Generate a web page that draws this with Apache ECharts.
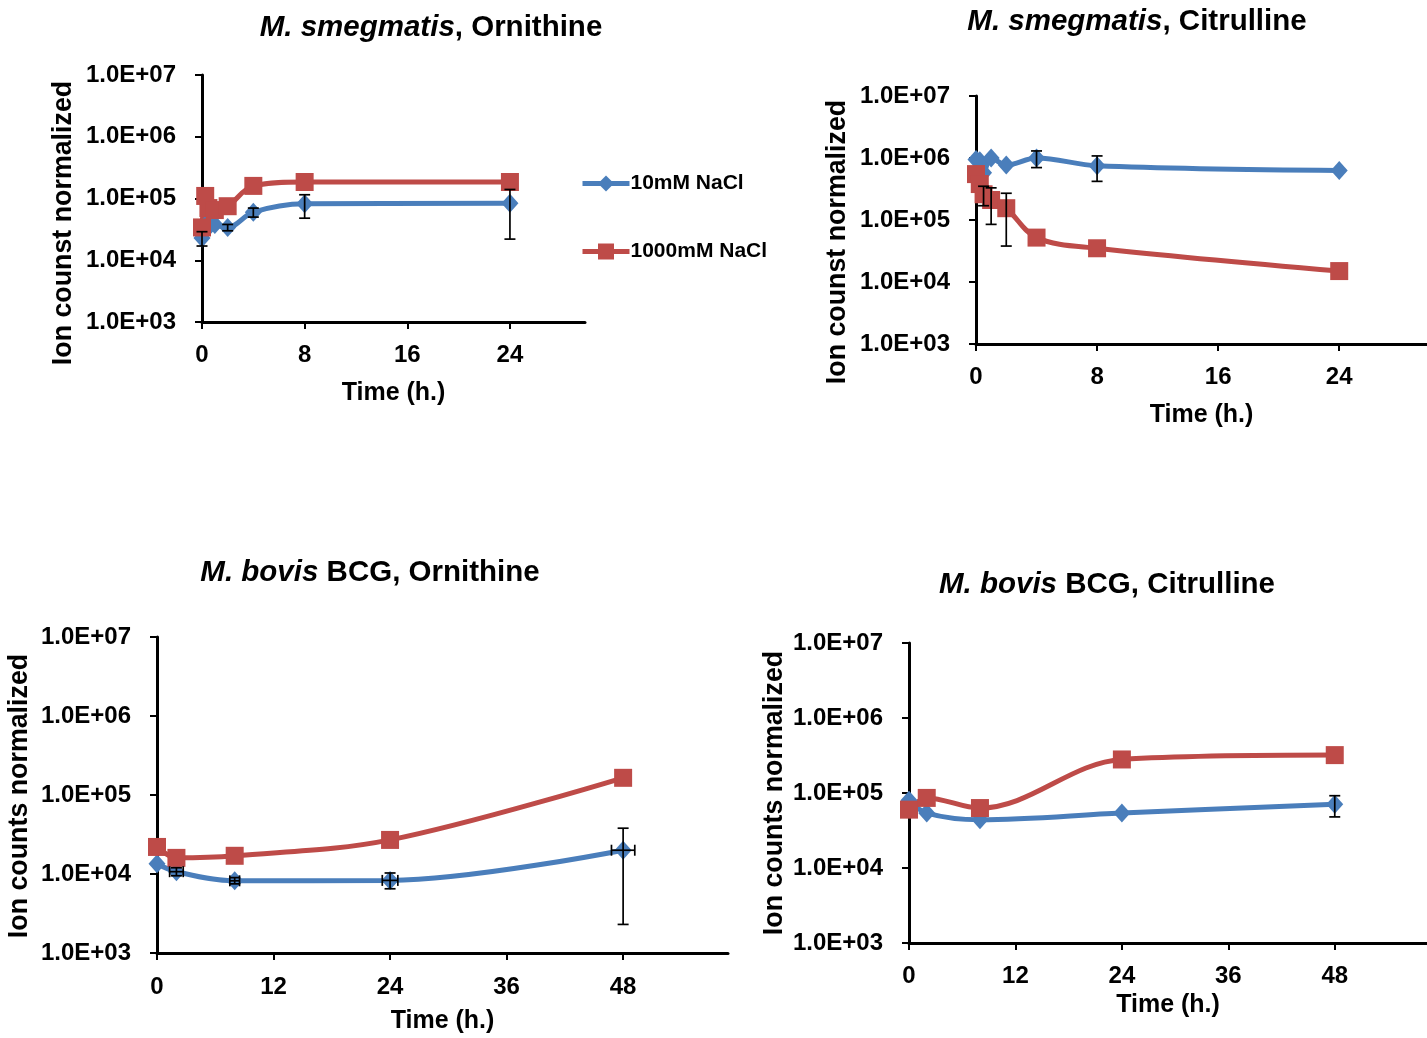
<!DOCTYPE html>
<html>
<head>
<meta charset="utf-8">
<title>Ornithine and citrulline ion counts</title>
<script src="https://cdn.jsdelivr.net/npm/echarts@6/dist/echarts.min.js"></script>
<style>
  html, body { margin: 0; padding: 0; background: #ffffff; }
  #chart { width: 1427px; height: 1038px; }
</style>
</head>
<body>
<div id="chart"></div>
<script>
// ---- sampling times (hours) ----
const timeSmeg = [0, 0.25, 0.5, 1, 2, 4, 8, 24];
const timeBovis = [0, 2, 8, 24, 48];

// ---- M. smegmatis, Ornithine ----
const smegOrn10 = [2.3e4, 3.0e4, 4.2e4, 3.8e4, 3.4e4, 6.0e4, 8.2e4, 8.4e4];
const smegOrn1000 = [3.4e4, 1.1e5, 7.0e4, 6.5e4, 7.5e4, 1.6e5, 1.85e5, 1.85e5];
// error bars: [point index, low, high, x half-width]
const smegOrn10Err = [[0, 1.7e4, 2.9e4, 0], [4, 3.0e4, 3.8e4, 0], [5, 5.0e4, 7.0e4, 0], [6, 4.8e4, 1.15e5, 0], [7, 2.2e4, 1.4e5, 0]];
const smegOrn1000Err = [];

// ---- M. smegmatis, Citrulline ----
const smegCit10 = [9.5e5, 9.0e5, 5.8e5, 1.0e6, 7.7e5, 1.0e6, 7.5e5, 6.3e5];
const smegCit1000 = [5.5e5, 3.8e5, 2.6e5, 2.1e5, 1.55e5, 5.2e4, 3.5e4, 1.5e4];
const smegCit10Err = [[5, 7.0e5, 1.3e6, 0], [6, 4.2e5, 1.08e6, 0]];
const smegCit1000Err = [[2, 1.7e5, 3.5e5, 0], [3, 8.5e4, 3.3e5, 0], [4, 3.8e4, 2.7e5, 0]];

// ---- M. bovis BCG, Ornithine ----
const bovOrn10 = [1.35e4, 1.07e4, 8.2e3, 8.3e3, 2.0e4];
const bovOrn1000 = [2.2e4, 1.6e4, 1.7e4, 2.7e4, 1.65e5];
const bovOrn10Err = [[1, 9.5e3, 1.2e4, 0.7], [2, 7.5e3, 9.0e3, 0.5], [3, 6.5e3, 1.03e4, 0.8], [4, 2.3e3, 3.8e4, 1.2]];
const bovOrn1000Err = [];

// ---- M. bovis BCG, Citrulline ----
const bovCit10 = [8.0e4, 5.4e4, 4.4e4, 5.4e4, 7.1e4];
const bovCit1000 = [6.0e4, 8.6e4, 6.3e4, 2.8e5, 3.2e5];
const bovCit10Err = [[4, 4.8e4, 9.2e4, 0]];
const bovCit1000Err = [];

// ---- axis ticks and labels ----
const yTicks = [1e3, 1e4, 1e5, 1e6, 1e7];
const yTickLabels = ['1.0E+03', '1.0E+04', '1.0E+05', '1.0E+06', '1.0E+07'];
const xTicksSmeg = [0, 8, 16, 24];
const xTicksBovis = [0, 12, 24, 36, 48];

const seriesNames = ['10mM NaCl', '1000mM NaCl'];
const panelTitles = [
  ['M. smegmatis', ', Ornithine'],
  ['M. smegmatis', ', Citrulline'],
  ['M. bovis', ' BCG, Ornithine'],
  ['M. bovis', ' BCG, Citrulline']
];
const yNames = ['Ion counst normalized', 'Ion counst normalized', 'Ion counts normalized', 'Ion counts normalized'];
const xName = 'Time (h.)';

const BLUE = '#4A7EBB';
const RED = '#BE4B48';
const FONT = '"Liberation Sans", Arial, Helvetica, sans-serif';

// panel geometry (pixels)
const panels = [
  { left: 202, top: 75, width: 383, height: 247, xMax: 29.85, ticks: xTicksSmeg, nameGap: 59, labelMargin: 21,
    t: timeSmeg, a: smegOrn10, b: smegOrn1000, ae: smegOrn10Err, be: smegOrn1000Err,
    title: [431, 28], yName: [64, 223] },
  { left: 976, top: 96, width: 451, height: 248, xMax: 29.8, ticks: xTicksSmeg, nameGap: 59, labelMargin: 21,
    t: timeSmeg, a: smegCit10, b: smegCit1000, ae: smegCit10Err, be: smegCit1000Err,
    title: [1137, 22], yName: [838, 242] },
  { left: 157, top: 637, width: 571, height: 316, xMax: 58.8, ticks: xTicksBovis, nameGap: 56, labelMargin: 22,
    t: timeBovis, a: bovOrn10, b: bovOrn1000, ae: bovOrn10Err, be: bovOrn1000Err,
    title: [370, 573], yName: [20, 796] },
  { left: 909, top: 643, width: 518, height: 300, xMax: 58.4, ticks: xTicksBovis, nameGap: 50, labelMargin: 21,
    t: timeBovis, a: bovCit10, b: bovCit1000, ae: bovCit10Err, be: bovCit1000Err,
    title: [1107, 585], yName: [775, 793] }
];

function pairs(t, v) { return t.map((x, i) => [x, v[i]]); }
function errRows(t, v, rows) { return rows.map(r => [t[r[0]], v[r[0]], r[1], r[2], r[3]]); }

function renderErr(params, api) {
  const x = api.value(0), y = api.value(1), lo = api.value(2), hi = api.value(3), xe = api.value(4);
  const st = { stroke: '#000', lineWidth: 1.7 };
  const cap = 5.5;
  const kids = [];
  const pLo = api.coord([x, lo]);
  const pHi = api.coord([x, hi]);
  kids.push({ type: 'line', shape: { x1: pLo[0], y1: pLo[1], x2: pHi[0], y2: pHi[1] }, style: st });
  kids.push({ type: 'line', shape: { x1: pLo[0] - cap, y1: pLo[1], x2: pLo[0] + cap, y2: pLo[1] }, style: st });
  kids.push({ type: 'line', shape: { x1: pHi[0] - cap, y1: pHi[1], x2: pHi[0] + cap, y2: pHi[1] }, style: st });
  if (xe > 0) {
    const pL = api.coord([x - xe, y]);
    const pR = api.coord([x + xe, y]);
    kids.push({ type: 'line', shape: { x1: pL[0], y1: pL[1], x2: pR[0], y2: pR[1] }, style: st });
    kids.push({ type: 'line', shape: { x1: pL[0], y1: pL[1] - cap, x2: pL[0], y2: pL[1] + cap }, style: st });
    kids.push({ type: 'line', shape: { x1: pR[0], y1: pR[1] - cap, x2: pR[0], y2: pR[1] + cap }, style: st });
  }
  return { type: 'group', children: kids };
}

const grid = [], xAxis = [], yAxis = [], series = [], graphic = [];

panels.forEach((p, i) => {
  grid.push({ left: p.left, top: p.top, width: p.width, height: p.height,
              containLabel: false, outerBoundsMode: 'none' });
  xAxis.push({
    type: 'value', gridIndex: i, min: 0, max: p.xMax,
    name: xName, nameLocation: 'middle', nameGap: p.nameGap,
    nameTextStyle: { fontFamily: FONT, fontWeight: 'bold', fontSize: 25, color: '#000' },
    axisLine: { show: true, onZero: false, lineStyle: { color: '#000', width: 3 } },
    axisTick: { show: true, length: 7, lineStyle: { color: '#000', width: 2 }, customValues: p.ticks },
    axisLabel: { customValues: p.ticks, margin: p.labelMargin, fontFamily: FONT, fontWeight: 'bold', fontSize: 24, color: '#000' },
    splitLine: { show: false }
  });
  yAxis.push({
    type: 'log', logBase: 10, gridIndex: i, min: yTicks[0], max: yTicks[yTicks.length - 1],
    axisLine: { show: true, lineStyle: { color: '#000', width: 3 } },
    axisTick: { show: true, length: 7, lineStyle: { color: '#000', width: 2 } },
    minorTick: { show: false },
    axisLabel: {
      margin: 26, fontFamily: FONT, fontWeight: 'bold', fontSize: 24, color: '#000',
      formatter: v => {
        const k = yTicks.findIndex(t => Math.abs(Math.log10(t) - Math.log10(v)) < 1e-6);
        return k >= 0 ? yTickLabels[k] : '';
      }
    },
    splitLine: { show: false }
  });

  const lineCommon = { type: 'line', xAxisIndex: i, yAxisIndex: i, smooth: 0.35,
                       showSymbol: true, animation: false, z: 2 };
  series.push(Object.assign({}, lineCommon, {
    name: seriesNames[0], data: pairs(p.t, p.a),
    symbol: 'diamond', symbolSize: [17, 19],
    lineStyle: { color: BLUE, width: 5 }, itemStyle: { color: BLUE }
  }));
  series.push(Object.assign({}, lineCommon, {
    name: seriesNames[1], data: pairs(p.t, p.b),
    symbol: 'rect', symbolSize: 18,
    lineStyle: { color: RED, width: 5 }, itemStyle: { color: RED }
  }));
  const errData = errRows(p.t, p.a, p.ae).concat(errRows(p.t, p.b, p.be));
  if (errData.length) {
    series.push({ type: 'custom', xAxisIndex: i, yAxisIndex: i, renderItem: renderErr,
                  data: errData, z: 3, silent: true, animation: false, clip: false,
                  encode: { x: 0, y: 1 } });
  }

  graphic.push({
    type: 'text', x: p.title[0], y: p.title[1], silent: true,
    style: {
      text: '{i|' + panelTitles[i][0] + '}{n|' + panelTitles[i][1] + '}',
      textAlign: 'center', textVerticalAlign: 'middle',
      rich: {
        i: { fontFamily: FONT, fontWeight: 'bold', fontStyle: 'italic', fontSize: 29.5, fill: '#000' },
        n: { fontFamily: FONT, fontWeight: 'bold', fontSize: 29.5, fill: '#000' }
      }
    }
  });
  graphic.push({
    type: 'text', x: p.yName[0], y: p.yName[1], rotation: Math.PI / 2, silent: true,
    style: { text: yNames[i], font: 'bold 26.8px ' + FONT, fill: '#000',
             textAlign: 'center', textVerticalAlign: 'middle' }
  });
});

const chart = echarts.init(document.getElementById('chart'), null, { renderer: 'canvas' });
chart.setOption({
  backgroundColor: '#ffffff',
  animation: false,
  grid, xAxis, yAxis, series, graphic,
  legend: {
    data: seriesNames, orient: 'vertical', left: 580, top: 173, padding: 0,
    itemWidth: 47, itemHeight: 20, itemGap: 47,
    lineStyle: { width: 5 },
    textStyle: { fontFamily: FONT, fontWeight: 'bold', fontSize: 21, color: '#000', padding: [0, 0, 0, -4] },
    selectedMode: false
  }
});
</script>
</body>
</html>
